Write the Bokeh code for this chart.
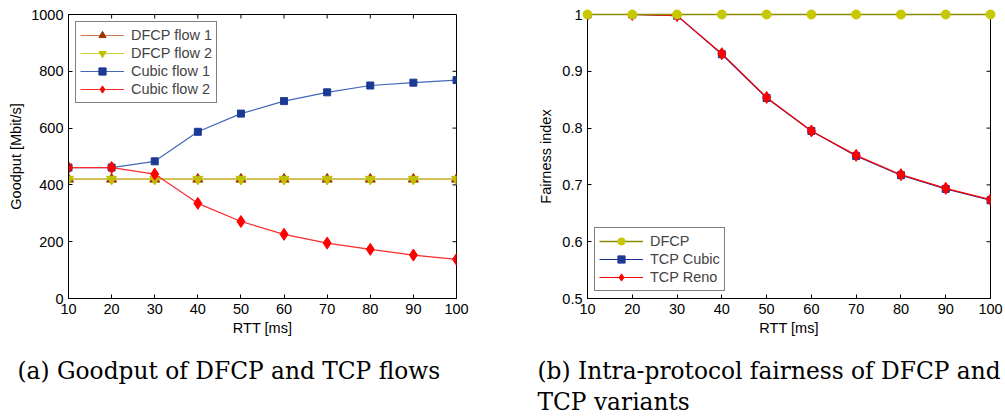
import math
from bokeh.plotting import figure
from bokeh.layouts import column, row
from bokeh.models import (Range1d, FixedTicker, Legend, LegendItem,
                          CustomJSTickFormatter)
from bokeh.core.properties import value
from bokeh.embed import file_html
from bokeh.resources import INLINE

# RTT values (ms)
rtt = [10, 20, 30, 40, 50, 60, 70, 80, 90, 100]

# Goodput (Mbit/s)
dfcp_flow1 = [420, 420, 420, 420, 420, 420, 420, 420, 420, 420]
dfcp_flow2 = [420, 420, 420, 420, 420, 420, 420, 420, 420, 420]
cubic_flow1 = [461, 461, 483, 587, 651, 695, 726, 750, 760, 769]
cubic_flow2 = [461, 461, 438, 335, 271, 226, 195, 173, 153, 138]

# Jain's fairness index
fair_dfcp = [1, 1, 1, 1, 1, 1, 1, 1, 1, 1]
fair_cubic = [1, 1, 0.998, 0.930, 0.853, 0.795, 0.751, 0.717, 0.693, 0.673]
fair_reno = [1, 1, 0.998, 0.931, 0.854, 0.795, 0.752, 0.718, 0.694, 0.674]

x_ticks = [10, 20, 30, 40, 50, 60, 70, 80, 90, 100]
goodput_ticks = [0, 200, 400, 600, 800, 1000]
fair_ticks = [0.5, 0.6, 0.7, 0.8, 0.9, 1.0]

FONT = "Liberation Sans"
FS = "14.5px"


def style_axes(p, xt, yt):
    for ax in p.axis:
        ax.axis_line_color = "black"
        ax.major_tick_line_color = "black"
        ax.major_tick_in = 4
        ax.major_tick_out = 0
        ax.minor_tick_line_color = None
        ax.major_label_text_font = FONT
        ax.major_label_text_font_size = FS
        ax.major_label_text_color = "black"
        ax.axis_label_text_font = FONT
        ax.axis_label_text_font_size = FS
        ax.axis_label_text_font_style = "normal"
        ax.axis_label_text_color = "black"
        ax.major_label_standoff = 5
    p.xaxis.ticker = FixedTicker(ticks=xt)
    p.yaxis.ticker = FixedTicker(ticks=yt)
    # mirrored inward tick marks along the top and right edges of the box
    x_end = p.x_range.end
    y_end = p.y_range.end
    p.ray(x=xt, y=[y_end] * len(xt), length=4, length_units="screen",
          angle=-math.pi / 2, line_color="black", line_width=1)
    p.ray(x=[x_end] * len(yt), y=yt, length=4, length_units="screen",
          angle=math.pi, line_color="black", line_width=1)
    p.xgrid.visible = False
    p.ygrid.visible = False
    p.outline_line_color = "black"


def make_legend(p, items, loc):
    leg = Legend(items=items, location=loc, margin=7, padding=4, spacing=0,
                 label_text_font=FONT, label_text_font_size=FS,
                 glyph_width=44, glyph_height=18, label_height=18,
                 label_standoff=7, border_line_color="black", border_line_width=1,
                 background_fill_alpha=1)
    p.add_layout(leg, "center")


# ---- (a) goodput ----
p1 = figure(width=500, height=340, output_backend="svg", toolbar_location=None,
            x_range=Range1d(10, 100), y_range=Range1d(0, 1000),
            min_border_left=68, min_border_right=44, min_border_top=14,
            min_border_bottom=40, x_axis_label="RTT [ms]",
            y_axis_label="Goodput [Mbit/s]")
p1.yaxis.axis_label_standoff = 4
p1.xaxis.axis_label_standoff = 3

l1 = p1.line(rtt, dfcp_flow1, color="#c8784e", line_width=1.2)
s1 = p1.scatter(rtt, dfcp_flow1, marker="triangle", size=10, color="#993300")
l2 = p1.line(rtt, dfcp_flow2, color="#cccc33", line_width=1.2)
s2 = p1.scatter(rtt, dfcp_flow2, marker="inverted_triangle", size=10, color="#c0c000")
l3 = p1.line(rtt, cubic_flow1, color="#4466bb", line_width=1.2)
s3 = p1.scatter(rtt, cubic_flow1, marker="square", size=7, color="#1c3a94")
l4 = p1.line(rtt, cubic_flow2, color="#ff2a2a", line_width=1.2)
s4 = p1.scatter(rtt, cubic_flow2, marker="diamond", size=12, color="#ff0000")

style_axes(p1, x_ticks, goodput_ticks)
make_legend(p1, [
    LegendItem(label="DFCP flow 1", renderers=[l1, s1]),
    LegendItem(label="DFCP flow 2", renderers=[l2, s2]),
    LegendItem(label="Cubic flow 1", renderers=[l3, s3]),
    LegendItem(label="Cubic flow 2", renderers=[l4, s4]),
], "top_left")

# ---- (b) fairness ----
p2 = figure(width=505, height=340, output_backend="svg", toolbar_location=None,
            x_range=Range1d(10, 100), y_range=Range1d(0.5, 1.0),
            min_border_left=87, min_border_right=15, min_border_top=14,
            min_border_bottom=42, x_axis_label="RTT [ms]",
            y_axis_label="Fairness index")
p2.yaxis.axis_label_standoff = 5
p2.xaxis.axis_label_standoff = 3

style_axes(p2, x_ticks, fair_ticks)

m2 = p2.line(rtt, fair_cubic, color="#1a2f8f", line_width=1.2)
t2 = p2.scatter(rtt, fair_cubic, marker="square", size=7, color="#1c3a94")
m3 = p2.line(rtt, fair_reno, color="#ff0000", line_width=1.2)
t3 = p2.scatter(rtt, fair_reno, marker="diamond", size=12, color="#ff0000")
# DFCP sits exactly on the top edge; draw it above the box outline
m1 = p2.line(rtt, fair_dfcp, color="#8c8c00", line_width=1.5, level="overlay")
t1 = p2.scatter(rtt, fair_dfcp, marker="circle", size=9, color="#c8c800",
                level="overlay")

p2.yaxis[0].formatter = CustomJSTickFormatter(code="return String(Math.round(tick*10)/10);")
make_legend(p2, [
    LegendItem(label="DFCP", renderers=[m1, t1]),
    LegendItem(label="TCP Cubic", renderers=[m2, t2]),
    LegendItem(label="TCP Reno", renderers=[m3, t3]),
], "bottom_left")

# ---- captions ----
cap = figure(width=1005, height=77, output_backend="svg", toolbar_location=None,
             x_range=Range1d(0, 1005), y_range=Range1d(77, 0),
             min_border=0, min_border_left=0, min_border_right=0,
             min_border_top=0, min_border_bottom=0)
cap.axis.visible = False
cap.grid.visible = False
cap.outline_line_color = None
cap_x = [17, 537, 537]
cap_y = [30, 30, 61]
cap_text = ["(a) Goodput of DFCP and TCP flows",
            "(b) Intra-protocol fairness of DFCP and",
            "TCP variants"]
cap.text(cap_x, cap_y, text=cap_text, text_font=value("DejaVu Serif"),
         text_font_size="23.3px", text_baseline="alphabetic", text_align="left",
         text_color="black")

layout = column(row(p1, p2), cap)
open("out.html", "w").write(file_html(layout, INLINE))
